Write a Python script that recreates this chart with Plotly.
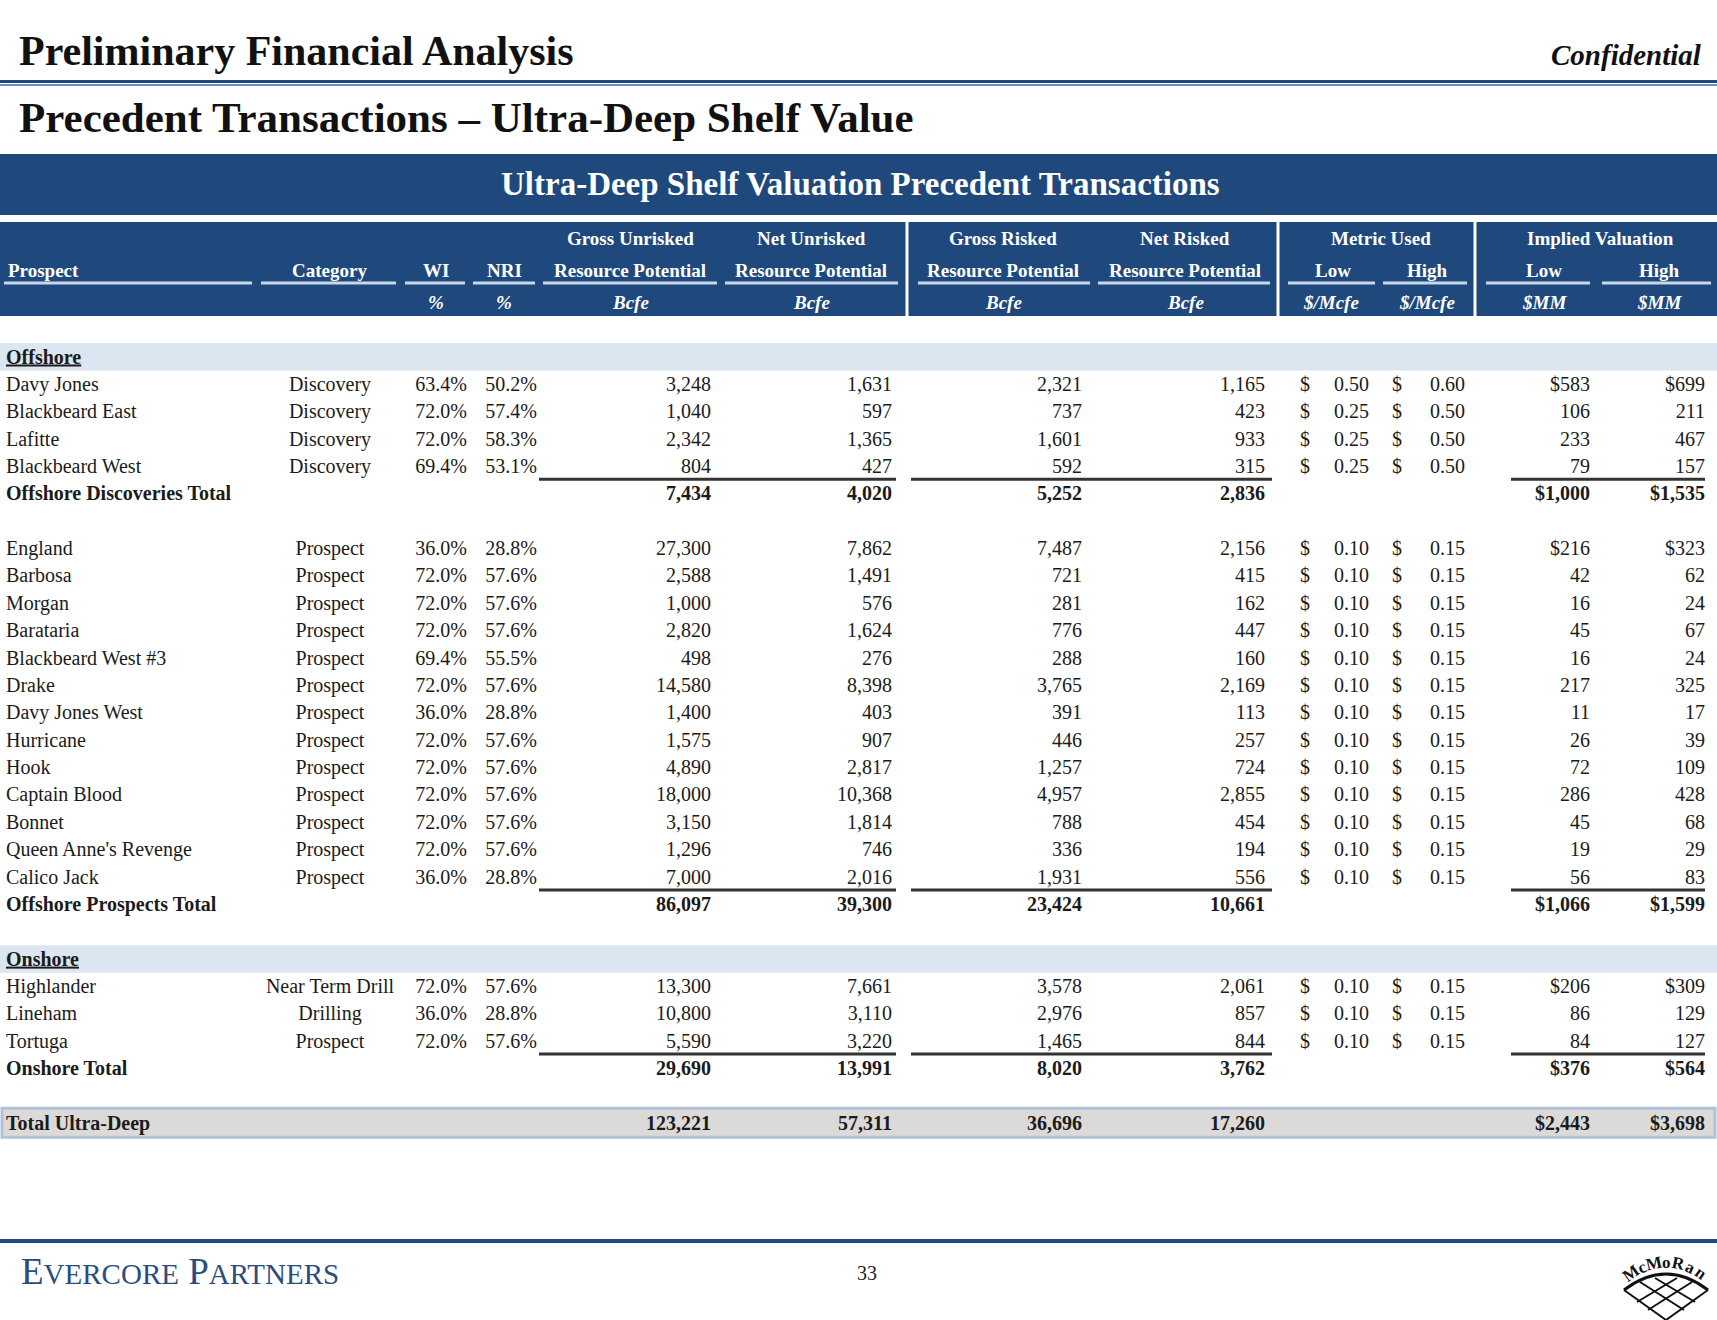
import math
import plotly.graph_objects as go

# ---------------- data ----------------
disc_names = ["Davy Jones", "Blackbeard East", "Lafitte", "Blackbeard West"]
disc_cat = ["Discovery", "Discovery", "Discovery", "Discovery"]
disc_wi = [63.4, 72.0, 72.0, 69.4]
disc_nri = [50.2, 57.4, 58.3, 53.1]
disc_gross_unrisked = [3248, 1040, 2342, 804]
disc_net_unrisked = [1631, 597, 1365, 427]
disc_gross_risked = [2321, 737, 1601, 592]
disc_net_risked = [1165, 423, 933, 315]
disc_metric_low = [0.50, 0.25, 0.25, 0.25]
disc_metric_high = [0.60, 0.50, 0.50, 0.50]
disc_implied_low = [583, 106, 233, 79]
disc_implied_high = [699, 211, 467, 157]
disc_total = [7434, 4020, 5252, 2836, 1000, 1535]

pros_names = ["England", "Barbosa", "Morgan", "Barataria", "Blackbeard West #3", "Drake",
              "Davy Jones West", "Hurricane", "Hook", "Captain Blood", "Bonnet",
              "Queen Anne's Revenge", "Calico Jack"]
pros_cat = ["Prospect"] * 13
pros_wi = [36.0, 72.0, 72.0, 72.0, 69.4, 72.0, 36.0, 72.0, 72.0, 72.0, 72.0, 72.0, 36.0]
pros_nri = [28.8, 57.6, 57.6, 57.6, 55.5, 57.6, 28.8, 57.6, 57.6, 57.6, 57.6, 57.6, 28.8]
pros_gross_unrisked = [27300, 2588, 1000, 2820, 498, 14580, 1400, 1575, 4890, 18000, 3150, 1296, 7000]
pros_net_unrisked = [7862, 1491, 576, 1624, 276, 8398, 403, 907, 2817, 10368, 1814, 746, 2016]
pros_gross_risked = [7487, 721, 281, 776, 288, 3765, 391, 446, 1257, 4957, 788, 336, 1931]
pros_net_risked = [2156, 415, 162, 447, 160, 2169, 113, 257, 724, 2855, 454, 194, 556]
pros_metric_low = [0.10] * 13
pros_metric_high = [0.15] * 13
pros_implied_low = [216, 42, 16, 45, 16, 217, 11, 26, 72, 286, 45, 19, 56]
pros_implied_high = [323, 62, 24, 67, 24, 325, 17, 39, 109, 428, 68, 29, 83]
pros_total = [86097, 39300, 23424, 10661, 1066, 1599]

on_names = ["Highlander", "Lineham", "Tortuga"]
on_cat = ["Near Term Drill", "Drilling", "Prospect"]
on_wi = [72.0, 36.0, 72.0]
on_nri = [57.6, 28.8, 57.6]
on_gross_unrisked = [13300, 10800, 5590]
on_net_unrisked = [7661, 3110, 3220]
on_gross_risked = [3578, 2976, 1465]
on_net_risked = [2061, 857, 844]
on_metric_low = [0.10, 0.10, 0.10]
on_metric_high = [0.15, 0.15, 0.15]
on_implied_low = [206, 86, 84]
on_implied_high = [309, 129, 127]
on_total = [29690, 13991, 8020, 3762, 376, 564]

grand_total = [123221, 57311, 36696, 17260, 2443, 3698]

# ---------------- styling ----------------
W, H = 1717, 1320
NAVY = "#1F497D"
TXT = "#1b1b1b"
SERIF = "Liberation Serif"
FS = 20
ROW0 = 357.0
DY = 27.37
TEXT_DY = 1.5   # small downward nudge of cell text inside its row

rows = []
rows.append(dict(kind="section", name="Offshore"))
def add_group(names, cat, wi, nri, gu, nu, gr, nr, ml, mh, il, ih, total, total_name):
    for i in range(len(names)):
        rows.append(dict(kind="item", name=names[i], cat=cat[i], wi=wi[i], nri=nri[i],
                         gu=gu[i], nu=nu[i], gr=gr[i], nr=nr[i], ml=ml[i], mh=mh[i],
                         il=il[i], ih=ih[i], first=(i == 0)))
    rows.append(dict(kind="total", name=total_name, vals=total))

add_group(disc_names, disc_cat, disc_wi, disc_nri, disc_gross_unrisked, disc_net_unrisked,
          disc_gross_risked, disc_net_risked, disc_metric_low, disc_metric_high,
          disc_implied_low, disc_implied_high, disc_total, "Offshore Discoveries Total")
rows.append(dict(kind="blank"))
add_group(pros_names, pros_cat, pros_wi, pros_nri, pros_gross_unrisked, pros_net_unrisked,
          pros_gross_risked, pros_net_risked, pros_metric_low, pros_metric_high,
          pros_implied_low, pros_implied_high, pros_total, "Offshore Prospects Total")
rows.append(dict(kind="blank"))
rows.append(dict(kind="section", name="Onshore"))
add_group(on_names, on_cat, on_wi, on_nri, on_gross_unrisked, on_net_unrisked,
          on_gross_risked, on_net_risked, on_metric_low, on_metric_high,
          on_implied_low, on_implied_high, on_total, "Onshore Total")
rows.append(dict(kind="blank"))
rows.append(dict(kind="grand", name="Total Ultra-Deep", vals=grand_total))

for i, r in enumerate(rows):
    r["y"] = ROW0 + i * DY

cols = [
    ("name", 6, "middle right"),
    ("cat", 330, "middle center"),
    ("wi", 467, "middle left"),
    ("nri", 537, "middle left"),
    ("gu", 711, "middle left"),
    ("nu", 892, "middle left"),
    ("gr", 1082, "middle left"),
    ("nr", 1265, "middle left"),
    ("ml$", 1300, "middle right"),
    ("ml", 1369, "middle left"),
    ("mh$", 1392, "middle right"),
    ("mh", 1465, "middle left"),
    ("il", 1590, "middle left"),
    ("ih", 1705, "middle left"),
]
tot_keys = ["gu", "nu", "gr", "nr", "il", "ih"]

def cell(r, key):
    k = r["kind"]
    if k == "blank":
        return None
    if k == "section":
        return "<b><u>%s</u></b>" % r["name"] if key == "name" else None
    if k in ("total", "grand"):
        if key == "name":
            return "<b>%s</b>" % r["name"]
        if key in tot_keys:
            v = r["vals"][tot_keys.index(key)]
            s = "{:,}".format(v)
            if key in ("il", "ih"):
                s = "$" + s
            return "<b>%s</b>" % s
        return None
    if key == "name":
        return r["name"]
    if key == "cat":
        return r["cat"]
    if key in ("wi", "nri"):
        return "%.1f%%" % r[key]
    if key in ("gu", "nu", "gr", "nr"):
        return "{:,}".format(r[key])
    if key in ("ml$", "mh$"):
        return "$"
    if key in ("ml", "mh"):
        return "%.2f" % r[key]
    if key in ("il", "ih"):
        s = "{:,}".format(r[key])
        return ("$" + s) if r["first"] else s
    return None

fig = go.Figure()
for key, x, pos in cols:
    xs, ys, ts = [], [], []
    for r in rows:
        t = cell(r, key)
        if t is not None:
            xs.append(x)
            ys.append(r["y"] + TEXT_DY)
            ts.append(t)
    fig.add_trace(go.Scatter(x=xs, y=ys, text=ts, mode="text", textposition=pos,
                             textfont=dict(family=SERIF, size=FS, color=TXT),
                             cliponaxis=False, hoverinfo="skip", showlegend=False))

shapes = []
def rect(x0, y0, x1, y1, fill, line=None, lw=0):
    shapes.append(dict(type="rect", xref="x", yref="y", x0=x0, y0=y0, x1=x1, y1=y1,
                       fillcolor=fill, line=dict(color=line or fill, width=lw), layer="below"))
def hline(x0, x1, y, color, w):
    shapes.append(dict(type="line", xref="x", yref="y", x0=x0, x1=x1, y0=y, y1=y,
                       line=dict(color=color, width=w)))
def vline(x, y0, y1, color, w):
    shapes.append(dict(type="line", xref="x", yref="y", x0=x, x1=x, y0=y0, y1=y1,
                       line=dict(color=color, width=w)))

hline(0, W, 81.5, NAVY, 3)
hline(0, W, 85, "#6F8FBF", 2)
rect(0, 154, W, 215, NAVY)
rect(0, 222, W, 316, NAVY)
for sx in (907, 1278, 1475):
    vline(sx, 222, 316, "#FFFFFF", 3)
for x0, x1 in [(4, 252), (261, 396), (405, 465), (473, 535), (543, 717), (725, 898),
               (918, 1090), (1098, 1270), (1288, 1375), (1383, 1467), (1486, 1590), (1602, 1711)]:
    hline(x0, x1, 283, "#C9D7EA", 3)

for r in rows:
    if r["kind"] == "section":
        rect(0, r["y"] - 14, W, r["y"] + 13.5, "#DCE6F1")
    if r["kind"] == "grand":
        rect(2, r["y"] - 15, W - 2, r["y"] + 14, "#DCDAD8", "#AFC2D8", 3)
    if r["kind"] == "total":
        yl = r["y"] - 14.5
        hline(539, 896, yl, "#333333", 3)
        hline(911, 1272, yl, "#333333", 3)
        hline(1511, 1705, yl, "#333333", 3)

hline(0, W, 1241, NAVY, 4)

ann = []
def text(x, y, s, size=FS, color=TXT, xa="center", bold=False, italic=False, fam=SERIF, angle=0):
    if bold:
        s = "<b>%s</b>" % s
    if italic:
        s = "<i>%s</i>" % s
    ann.append(dict(x=x, y=y, xref="x", yref="y", text=s, showarrow=False, xanchor=xa,
                    yanchor="middle", textangle=angle, font=dict(family=fam, size=size, color=color)))

text(17, 51, "Preliminary Financial Analysis", size=42, xa="left", bold=True, color="#111")
text(1704, 55, "Confidential", size=29, xa="right", bold=True, italic=True, color="#111")
text(17, 117, "Precedent Transactions \u2013 Ultra-Deep Shelf Value", size=43, xa="left", bold=True, color="#111")
text(860, 184, "Ultra-Deep Shelf Valuation Precedent Transactions", size=33, color="white", bold=True)

HW = "white"
HS = 19
for x, s in [(630, "Gross Unrisked"), (811, "Net Unrisked"), (1003, "Gross Risked"),
             (1185, "Net Risked"), (1381, "Metric Used"), (1600, "Implied Valuation")]:
    text(x, 238, s, size=HS, color=HW, bold=True)
text(6, 270, "Prospect", size=HS, color=HW, xa="left", bold=True)
for x, s in [(329, "Category"), (436, "WI"), (504, "NRI"), (630, "Resource Potential"),
             (811, "Resource Potential"), (1003, "Resource Potential"), (1185, "Resource Potential"),
             (1333, "Low"), (1427, "High"), (1544, "Low"), (1659, "High")]:
    text(x, 270, s, size=HS, color=HW, bold=True)
for x, s in [(436, "%"), (504, "%"), (630, "Bcfe"), (811, "Bcfe"), (1003, "Bcfe"), (1185, "Bcfe"),
             (1331, "$/Mcfe"), (1427, "$/Mcfe"), (1544, "$MM"), (1659, "$MM")]:
    text(x, 302, s, size=HS, color=HW, italic=True, bold=True)

ann.append(dict(x=19, y=1271, xref="x", yref="y", showarrow=False, xanchor="left", yanchor="middle",
                text="E<span style='font-size:29px'>VERCORE</span> P<span style='font-size:29px'>ARTNERS</span>",
                font=dict(family=SERIF, size=37, color="#2C4C7E")))
text(867, 1273, "33", size=20, color="#222")

# McMoRan logo: arched lettering over a lattice
logo = "McMoRan"
cx, cy, R = 1666, 1322, 60
for i, ch in enumerate(logo):
    th = -36 + 72 * i / (len(logo) - 1)
    t = math.radians(th)
    text(cx + R * math.sin(t), cy - R * math.cos(t), ch, size=17, bold=True, color="#111", angle=th)
lc = "#111"
shapes.append(dict(type="path", xref="x", yref="y",
                   path="M 1624 1290 Q 1666 1258 1708 1290", line=dict(color=lc, width=3)))
for (x0, y0, x1, y1) in [(1624, 1290, 1666, 1320), (1708, 1290, 1666, 1320),
                         (1640, 1282, 1684, 1310), (1655, 1278, 1695, 1302),
                         (1692, 1282, 1648, 1310), (1677, 1278, 1637, 1302)]:
    shapes.append(dict(type="line", xref="x", yref="y", x0=x0, y0=y0, x1=x1, y1=y1,
                       line=dict(color=lc, width=2)))

fig.update_layout(
    width=W, height=H, margin=dict(l=0, r=0, t=0, b=0),
    paper_bgcolor="white", plot_bgcolor="white",
    xaxis=dict(range=[0, W], visible=False, fixedrange=True),
    yaxis=dict(range=[H, 0], visible=False, fixedrange=True),
    shapes=shapes, annotations=ann, showlegend=False,
)
fig.write_html("out.html", config={"displayModeBar": False},
               post_script="document.body.style.margin='0';document.body.style.overflow='hidden';")
